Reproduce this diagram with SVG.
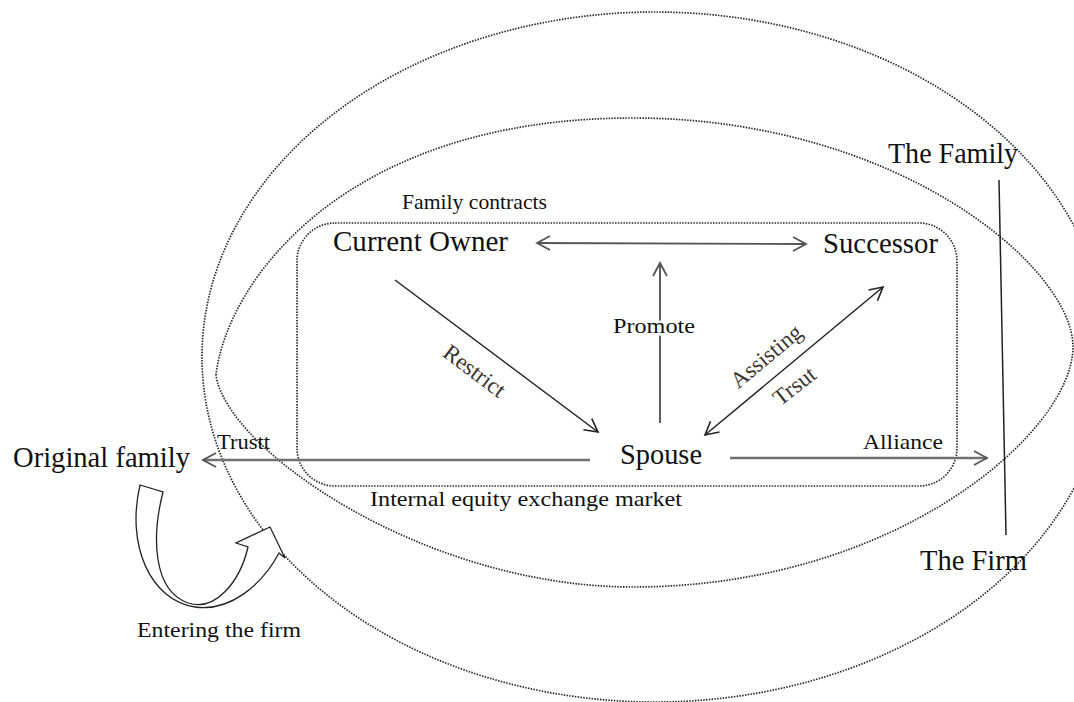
<svg xmlns="http://www.w3.org/2000/svg" width="1074" height="702" viewBox="0 0 1074 702">
<defs>
<marker id="ah" markerUnits="userSpaceOnUse" viewBox="0 0 18 18" markerWidth="18" markerHeight="18" refX="15" refY="9" orient="auto-start-reverse"><path d="M2,2 L15,9 L2,16" fill="none" stroke="#222" stroke-width="1.6"/></marker>
<marker id="ahg" markerUnits="userSpaceOnUse" viewBox="0 0 18 18" markerWidth="18" markerHeight="18" refX="15" refY="9" orient="auto-start-reverse"><path d="M2,2 L15,9 L2,16" fill="none" stroke="#555" stroke-width="1.8"/></marker>
</defs>
<style>
.dot{fill:none;stroke:#2a2a2a;stroke-width:1.7;stroke-dasharray:1.5 1.3}
.big{font-family:"Liberation Serif","Times New Roman",serif;font-size:28.5px;fill:#111}
.sm{font-family:"Liberation Serif","Times New Roman",serif;font-size:22px;fill:#111}
.rot{font-family:"Liberation Serif","Times New Roman",serif;font-size:23px;fill:#3b3530;text-anchor:middle}
.ln{fill:none;stroke:#222;stroke-width:1.5}
.lg{fill:none;stroke:#707070;stroke-width:2.6}
.lm{fill:none;stroke:#555;stroke-width:1.9}
</style>
<rect width="1074" height="702" fill="#fff"/>
<g id="family-boundary">
<ellipse class="dot" cx="655" cy="357" rx="453" ry="345"/>
</g>
<g id="firm-boundary">
<path class="dot" d="M216,375 C226,285 341,118 633,118 C897,118 1073,267 1073,347 C1073,431 897,587 633,587 C424,587 226,449 216,375 Z"/>
</g>
<g id="internal-market">
<rect class="dot" x="297" y="223" width="660" height="263" rx="38" ry="38"/>
<text class="sm" x="402" y="209" font-size="21" textLength="145" lengthAdjust="spacingAndGlyphs">Family contracts</text>
<text class="sm" x="370" y="506" font-size="22.5" textLength="312" lengthAdjust="spacingAndGlyphs">Internal equity exchange market</text>
</g>
<g id="connectors">
<line class="lm" x1="537" y1="243" x2="806" y2="244" marker-start="url(#ahg)" marker-end="url(#ahg)"/>
<line class="ln" x1="395" y1="280" x2="598" y2="432" marker-end="url(#ah)"/>
<line class="lm" x1="660" y1="423" x2="660" y2="263" marker-end="url(#ahg)"/>
<line class="ln" x1="705" y1="435" x2="883" y2="287" marker-start="url(#ah)" marker-end="url(#ah)"/>
<line class="lg" x1="590" y1="460" x2="203" y2="460" marker-end="url(#ahg)"/>
<line class="lg" x1="730" y1="458" x2="987" y2="458" marker-end="url(#ahg)"/>
<line class="ln" x1="999" y1="180" x2="1006" y2="535" stroke-width="1.4"/>
<text class="rot" x="470" y="377" transform="rotate(37 470 377)">Restrict</text>
<text class="sm" x="613" y="333" font-size="23.5" textLength="82" lengthAdjust="spacingAndGlyphs" stroke="#fff" stroke-width="5" paint-order="stroke">Promote</text>
<text class="rot" x="771" y="362" transform="rotate(-40 771 362)">Assisting</text>
<text class="rot" x="799" y="392" transform="rotate(-38 799 392)">Trsut</text>
<text class="sm" x="217" y="449" textLength="53" lengthAdjust="spacingAndGlyphs">Trustt</text>
<text class="sm" x="863" y="449" font-size="23.5" textLength="80" lengthAdjust="spacingAndGlyphs">Alliance</text>
</g>
<g id="current-owner"><text class="big" x="333" y="251" textLength="175" lengthAdjust="spacingAndGlyphs">Current Owner</text></g>
<g id="successor"><text class="big" x="823" y="253" textLength="115" lengthAdjust="spacingAndGlyphs">Successor</text></g>
<g id="spouse"><text class="big" x="620" y="464" textLength="82" lengthAdjust="spacingAndGlyphs">Spouse</text></g>
<g id="original-family"><text class="big" x="13" y="467" textLength="177" lengthAdjust="spacingAndGlyphs">Original family</text></g>
<g id="the-family"><text class="big" x="888" y="163" textLength="130" lengthAdjust="spacingAndGlyphs">The Family</text></g>
<g id="the-firm"><text class="big" x="920" y="570" textLength="107" lengthAdjust="spacingAndGlyphs">The Firm</text></g>
<g id="entering-the-firm">
<path d="M140,485 L163,492 C152,535 152,590 188,603 C215,612 240,582 248,547 L236,543 L270,527 L285,558 L279,553 C262,585 230,612 195,607 C150,600 126,545 140,485 Z" fill="#fff" stroke="#222" stroke-width="1.3" stroke-linejoin="miter"/>
<text class="sm" x="137" y="637" font-size="23.5" textLength="164" lengthAdjust="spacingAndGlyphs">Entering the firm</text>
</g>
</svg>
